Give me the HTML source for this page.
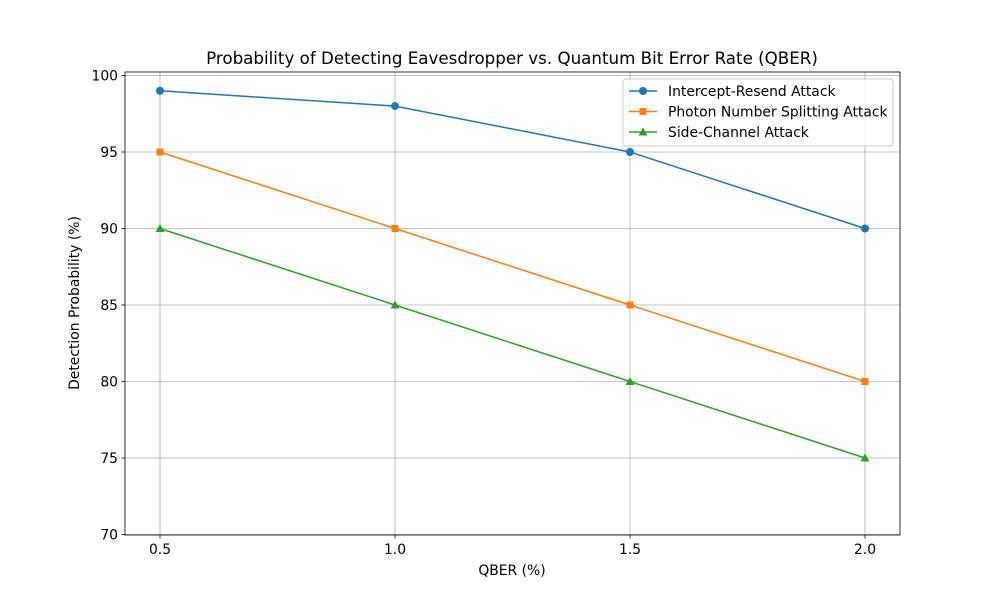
<!DOCTYPE html>
<html><head><meta charset="utf-8"><style>
body{margin:0;background:#fff;font-family:"DejaVu Sans","Liberation Sans",sans-serif}
text{font-family:"DejaVu Sans","Liberation Sans",sans-serif}
</style></head><body>
<svg id="chart" width="1000" height="600" xmlns="http://www.w3.org/2000/svg">
<rect width="1000" height="600" fill="#fff"/>
<g id="grid"></g><g id="series"></g><g id="axes"></g>
</svg>
<script>
const categories=[0.5,1.0,1.5,2.0];
const interceptResend=[99,98,95,90];
const photonSplitting=[95,90,85,80];
const sideChannel=[90,85,80,75];
const xTicks=[0.5,1.0,1.5,2.0];
const yTicks=[70,75,80,85,90,95,100];
const seriesNames=["Intercept-Resend Attack","Photon Number Splitting Attack","Side-Channel Attack"];
const L=125,R=900,T=72,B=535;
const X=v=>160+(v-0.5)*470;
const Y=v=>534.5-(v-70)*15.3;
const NS="http://www.w3.org/2000/svg";
function mk(p,tag,attrs){const e=document.createElementNS(NS,tag);for(const k in attrs)e.setAttribute(k,attrs[k]);p.appendChild(e);return e;}
const g=document.getElementById('grid'),s=document.getElementById('series'),a=document.getElementById('axes');
xTicks.forEach(t=>{const l=mk(g,'line',{x1:X(t),x2:X(t),y1:T,y2:B,stroke:'#b0b0b0','stroke-width':0.8});

mk(a,'line',{x1:X(t),x2:X(t),y1:B,y2:B+3.5,stroke:'#000','stroke-width':0.8});
const tx=mk(a,'text',{x:X(t),y:B+19,'text-anchor':'middle','font-size':13.9});tx.textContent=t.toFixed(1);
});
yTicks.forEach(t=>{const l=mk(g,'line',{x1:L,x2:R,y1:Y(t),y2:Y(t),stroke:'#b0b0b0','stroke-width':0.8});

mk(a,'line',{x1:L-3.5,x2:L,y1:Y(t),y2:Y(t),stroke:'#000','stroke-width':0.8});
const tx=mk(a,'text',{x:L-7,y:Y(t)+5,'text-anchor':'end','font-size':13.9});tx.textContent=t;
});
const fr=mk(a,'rect',{x:L,y:T,width:R-L,height:B-T,fill:'none',stroke:'#000','stroke-width':0.8});

function marker(p,type,x,y,c){let e;
if(type==='o')e=mk(p,'circle',{cx:x,cy:y,r:4,fill:c});
else if(type==='s')e=mk(p,'rect',{x:x-3.5,y:y-3.5,width:7,height:7,fill:c});
else e=mk(p,'polygon',{points:`${x},${y-4.5} ${x+4.5},${y+3.5} ${x-4.5},${y+3.5}`,fill:c});
return e;}
const sets=[[interceptResend,'#1f77b4','o'],[photonSplitting,'#ff7f0e','s'],[sideChannel,'#2ca02c','^']];
sets.forEach(([d,c,m],i)=>{const pl=mk(s,'polyline',{points:d.map((v,j)=>X(categories[j])+','+Y(v)).join(' '),fill:'none',stroke:c,'stroke-width':1.5});

d.forEach((v,j)=>{const e=marker(s,m,X(categories[j]),Y(v),c);});});
const lg=mk(a,'g',{});
mk(lg,'rect',{x:623,y:79,width:270,height:67,rx:3,fill:'#fff','fill-opacity':0.8,stroke:'#ccc'});
sets.forEach(([d,c,m],i)=>{const y=91+i*20.5;
const en=mk(lg,'g',{});
mk(en,'line',{x1:629,x2:657,y1:y,y2:y,stroke:c,'stroke-width':1.5});marker(en,m,643,y,c);
const t=mk(en,'text',{x:668,y:y+5,'font-size':13.9});t.textContent=seriesNames[i];});
const title=mk(a,'text',{x:512,y:64,'text-anchor':'middle','font-size':16.7});title.textContent='Probability of Detecting Eavesdropper vs. Quantum Bit Error Rate (QBER)';

const xl=mk(a,'text',{x:512,y:575,'text-anchor':'middle','font-size':13.9});xl.textContent='QBER (%)';

const yl=mk(a,'text',{x:79,y:303,'text-anchor':'middle','font-size':13.9,transform:'rotate(-90 79 303)'});yl.textContent='Detection Probability (%)';

</script>
</body></html>
